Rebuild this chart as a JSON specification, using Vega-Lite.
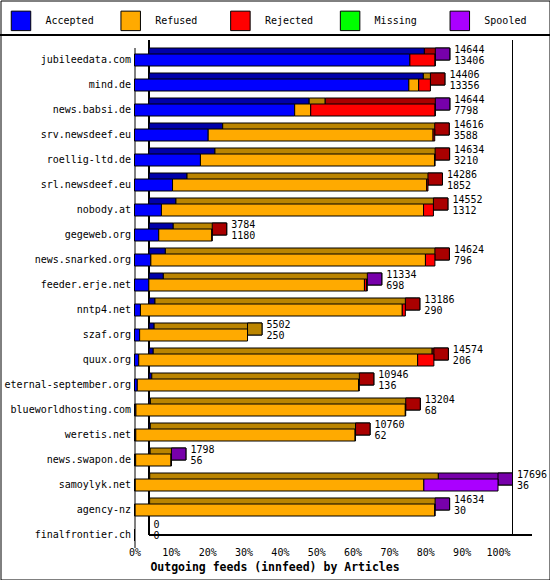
{
  "$schema": "https://vega.github.io/schema/vega-lite/v6.json",
  "width": 549,
  "height": 579,
  "padding": 0.5,
  "autosize": {"type": "none"},
  "background": "white",
  "config": {
    "font": "DejaVu Sans Mono",
    "view": {"stroke": "black", "strokeWidth": 1}
  },
  "data": {
    "values": [
      {"host": "jubileedata.com", "status": "Accepted", "n": 13406},
      {"host": "jubileedata.com", "status": "Rejected", "n": 1228},
      {"host": "jubileedata.com", "status": "Spooled", "n": 10},
      {"host": "mind.de", "status": "Accepted", "n": 13356},
      {"host": "mind.de", "status": "Refused", "n": 478},
      {"host": "mind.de", "status": "Rejected", "n": 572},
      {"host": "news.babsi.de", "status": "Accepted", "n": 7798},
      {"host": "news.babsi.de", "status": "Refused", "n": 780},
      {"host": "news.babsi.de", "status": "Rejected", "n": 6056},
      {"host": "news.babsi.de", "status": "Spooled", "n": 10},
      {"host": "srv.newsdeef.eu", "status": "Accepted", "n": 3588},
      {"host": "srv.newsdeef.eu", "status": "Refused", "n": 10948},
      {"host": "srv.newsdeef.eu", "status": "Rejected", "n": 80},
      {"host": "roellig-ltd.de", "status": "Accepted", "n": 3210},
      {"host": "roellig-ltd.de", "status": "Refused", "n": 11394},
      {"host": "roellig-ltd.de", "status": "Rejected", "n": 30},
      {"host": "srl.newsdeef.eu", "status": "Accepted", "n": 1852},
      {"host": "srl.newsdeef.eu", "status": "Refused", "n": 12374},
      {"host": "srl.newsdeef.eu", "status": "Rejected", "n": 60},
      {"host": "nobody.at", "status": "Accepted", "n": 1312},
      {"host": "nobody.at", "status": "Refused", "n": 12760},
      {"host": "nobody.at", "status": "Rejected", "n": 480},
      {"host": "gegeweb.org", "status": "Accepted", "n": 1180},
      {"host": "gegeweb.org", "status": "Refused", "n": 2584},
      {"host": "gegeweb.org", "status": "Rejected", "n": 20},
      {"host": "news.snarked.org", "status": "Accepted", "n": 796},
      {"host": "news.snarked.org", "status": "Refused", "n": 13368},
      {"host": "news.snarked.org", "status": "Rejected", "n": 460},
      {"host": "feeder.erje.net", "status": "Accepted", "n": 698},
      {"host": "feeder.erje.net", "status": "Refused", "n": 10496},
      {"host": "feeder.erje.net", "status": "Rejected", "n": 100},
      {"host": "feeder.erje.net", "status": "Spooled", "n": 40},
      {"host": "nntp4.net", "status": "Accepted", "n": 290},
      {"host": "nntp4.net", "status": "Refused", "n": 12746},
      {"host": "nntp4.net", "status": "Rejected", "n": 150},
      {"host": "szaf.org", "status": "Accepted", "n": 250},
      {"host": "szaf.org", "status": "Refused", "n": 5252},
      {"host": "quux.org", "status": "Accepted", "n": 206},
      {"host": "quux.org", "status": "Refused", "n": 13578},
      {"host": "quux.org", "status": "Rejected", "n": 790},
      {"host": "eternal-september.org", "status": "Accepted", "n": 136},
      {"host": "eternal-september.org", "status": "Refused", "n": 10770},
      {"host": "eternal-september.org", "status": "Rejected", "n": 40},
      {"host": "blueworldhosting.com", "status": "Accepted", "n": 68},
      {"host": "blueworldhosting.com", "status": "Refused", "n": 13116},
      {"host": "blueworldhosting.com", "status": "Rejected", "n": 20},
      {"host": "weretis.net", "status": "Accepted", "n": 62},
      {"host": "weretis.net", "status": "Refused", "n": 10678},
      {"host": "weretis.net", "status": "Rejected", "n": 20},
      {"host": "news.swapon.de", "status": "Accepted", "n": 56},
      {"host": "news.swapon.de", "status": "Refused", "n": 1722},
      {"host": "news.swapon.de", "status": "Spooled", "n": 20},
      {"host": "samoylyk.net", "status": "Accepted", "n": 36},
      {"host": "samoylyk.net", "status": "Refused", "n": 14050},
      {"host": "samoylyk.net", "status": "Spooled", "n": 3610},
      {"host": "agency-nz", "status": "Accepted", "n": 30},
      {"host": "agency-nz", "status": "Refused", "n": 14584},
      {"host": "agency-nz", "status": "Spooled", "n": 20},
      {"host": "finalfrontier.ch", "status": "Accepted", "n": 0}
    ]
  },
  "transform": [
    {"stack": "n", "groupby": ["host"], "as": ["x0", "x1"]},
    {"joinaggregate": [{"op": "max", "field": "x1", "as": "total"}], "groupby": ["host"]}
  ],
  "encoding": {
    "y": {
      "field": "host",
      "type": "nominal",
      "sort": null,
      "scale": {
        "domain": ["jubileedata.com", "mind.de", "news.babsi.de", "srv.newsdeef.eu", "roellig-ltd.de", "srl.newsdeef.eu", "nobody.at", "gegeweb.org", "news.snarked.org", "feeder.erje.net", "nntp4.net", "szaf.org", "quux.org", "eternal-september.org", "blueworldhosting.com", "weretis.net", "news.swapon.de", "samoylyk.net", "agency-nz", "finalfrontier.ch"],
        "range": [47, 547],
        "paddingInner": 0,
        "paddingOuter": 0
      },
      "axis": {
        "orient": "left",
        "offset": -134,
        "title": null,
        "ticks": false,
        "domainColor": "black",
        "domainWidth": 1,
        "labelPadding": 4,
        "labelFont": "DejaVu Sans Mono",
        "labelFontSize": 10,
        "labelColor": "black",
        "labelLimit": 200
      }
    }
  },
  "layer": [
    {
      "mark": {"type": "rule", "color": "black", "strokeWidth": 1, "yOffset": -25},
      "encoding": {"y": {"datum": "jubileedata.com"}}
    },
    {
      "mark": {"type": "rule", "color": "black", "strokeWidth": 1, "xOffset": 14.5, "yOffset": -20},
      "encoding": {
        "x": {"datum": 0},
        "y": {"datum": "jubileedata.com"},
        "y2": {"datum": "finalfrontier.ch"}
      }
    },
    {
      "mark": {"type": "rule", "color": "black", "strokeWidth": 1, "xOffset": 14.5, "yOffset": -20},
      "encoding": {
        "x": {"datum": 17696},
        "y": {"datum": "jubileedata.com"},
        "y2": {"datum": "finalfrontier.ch"}
      }
    },
    {
      "mark": {"type": "rule", "color": "black", "strokeWidth": 1, "xOffset": 14.5, "x2Offset": 34},
      "encoding": {
        "y": {"datum": "finalfrontier.ch"},
        "x": {"datum": 0},
        "x2": {"datum": 17696}
      }
    },
    {
      "mark": {"type": "bar", "size": 12, "xOffset": 14.5, "x2Offset": 14.5, "yOffset": -6, "stroke": "black", "strokeWidth": 1},
      "encoding": {
        "x": {
          "field": "x0",
          "type": "quantitative",
          "scale": {"domain": [0, 17696], "range": [134, 497.5], "nice": false, "zero": true},
          "axis": {
            "orient": "bottom",
            "offset": -32,
            "values": [0, 1769.6, 3539.2, 5308.8, 7078.4, 8848, 10617.6, 12387.2, 14156.8, 15926.4, 17696],
            "labelExpr": "format(datum.value / 17696, '.0%')",
            "labelFlush": false,
            "labelOverlap": false,
            "domain": false,
            "ticks": false,
            "grid": false,
            "labelPadding": 0,
            "labelFont": "DejaVu Sans Mono",
            "labelFontSize": 10,
            "labelColor": "black",
            "title": "Outgoing feeds (innfeed) by Articles",
            "titleFont": "DejaVu Sans Mono",
            "titleFontSize": 11.5,
            "titleFontWeight": "bold",
            "titleColor": "black",
            "titleX": 274,
            "titleY": 20,
            "titleAlign": "center",
            "titleBaseline": "middle",
            "titleAnchor": null
          }
        },
        "x2": {"field": "x1"},
        "color": {
          "field": "status",
          "type": "nominal",
          "scale": {"domain": ["Accepted", "Refused", "Rejected", "Missing", "Spooled"], "range": ["#0000AA", "#BB8500", "#AA0000", "#00AA00", "#7700AA"]},
          "legend": null
        }
      }
    },
    {
      "transform": [{"filter": "datum.x1 == datum.total && datum.n > 0"}],
      "mark": {"type": "bar", "size": 12, "x2Offset": 14.5, "yOffset": -6, "stroke": "black", "strokeWidth": 1},
      "encoding": {
        "x": {"field": "x1", "type": "quantitative"},
        "x2": {"field": "x1"},
        "color": {
          "field": "status",
          "type": "nominal",
          "scale": {"domain": ["Accepted", "Refused", "Rejected", "Missing", "Spooled"], "range": ["#0000AA", "#BB8500", "#AA0000", "#00AA00", "#7700AA"]},
          "legend": null
        }
      }
    },
    {
      "mark": {"type": "bar", "size": 12, "stroke": "black", "strokeWidth": 1},
      "encoding": {
        "x": {"field": "x0", "type": "quantitative"},
        "x2": {"field": "x1"},
        "color": {
          "field": "status",
          "type": "nominal",
          "scale": {"domain": ["Accepted", "Refused", "Rejected", "Missing", "Spooled"], "range": ["#0000FF", "#FFAA00", "#FF0000", "#00FF00", "#AA00FF"]},
          "legend": {
            "title": null,
            "orient": "none",
            "legendX": 10,
            "legendY": 9.5,
            "direction": "horizontal",
            "columns": 5,
            "gridAlign": "all",
            "columnPadding": 23.7,
            "padding": 0,
            "symbolType": "square",
            "symbolSize": 380,
            "symbolStrokeColor": "black",
            "symbolStrokeWidth": 1,
            "symbolOpacity": 1,
            "labelOffset": 14,
            "labelFont": "DejaVu Sans Mono",
            "labelFontSize": 10,
            "labelColor": "black",
            "labelLimit": 200
          }
        }
      }
    },
    {
      "transform": [{"filter": "datum.status == 'Accepted'"}],
      "mark": {"type": "text", "align": "left", "baseline": "middle", "dx": 19, "dy": -10.5, "fontSize": 10, "font": "DejaVu Sans Mono", "color": "black"},
      "encoding": {
        "x": {"field": "total", "type": "quantitative"},
        "text": {"field": "total", "type": "quantitative", "format": "d"}
      }
    },
    {
      "transform": [{"filter": "datum.status == 'Accepted'"}],
      "mark": {"type": "text", "align": "left", "baseline": "middle", "dx": 19, "dy": 0.5, "fontSize": 10, "font": "DejaVu Sans Mono", "color": "black"},
      "encoding": {
        "x": {"field": "total", "type": "quantitative"},
        "text": {"field": "n", "type": "quantitative", "format": "d"}
      }
    }
  ],
  "resolve": {"scale": {"color": "independent"}, "legend": {"color": "independent"}}
}
